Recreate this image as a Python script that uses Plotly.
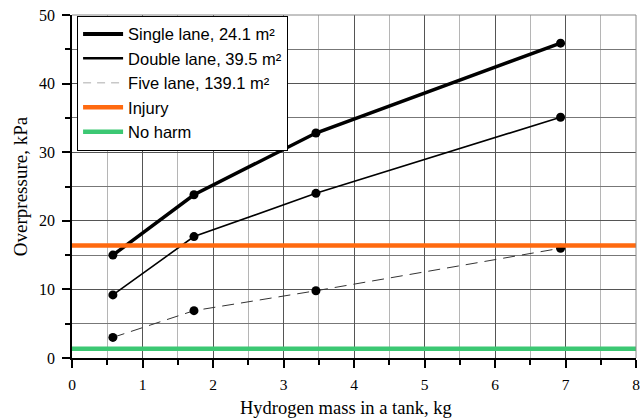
import plotly.graph_objects as go

# Hydrogen mass in tank (kg) and resulting overpressure (kPa) per tunnel cross-section
mass_kg = [0.58, 1.73, 3.46, 6.93]
single_lane = [15.0, 23.8, 32.8, 45.9]
double_lane = [9.2, 17.7, 24.0, 35.1]
five_lane = [3.0, 6.9, 9.8, 16.0]

# Harm thresholds (kPa)
injury_kpa = 16.4
no_harm_kpa = 1.35
x_range = [0, 8]

series_names = ["Single lane, 24.1 m²", "Double lane, 39.5 m²", "Five lane, 139.1 m²"]

fig = go.Figure()

line_styles = [
    dict(color="black", width=3.5),
    dict(color="black", width=1.6),
    dict(color="#333333", width=1, dash="12px,7px"),
]
legend_styles = [
    dict(color="black", width=4),
    dict(color="black", width=2.5),
    dict(color="#c8c8c8", width=1.5, dash="8px,6px"),
]
for name, ys, st, lst in zip(series_names, [single_lane, double_lane, five_lane],
                             line_styles, legend_styles):
    fig.add_trace(go.Scatter(x=mass_kg, y=ys, mode="lines", showlegend=False, line=st))
    fig.add_trace(go.Scatter(x=mass_kg, y=ys, mode="markers", showlegend=False,
                             marker=dict(color="black", size=9), hoverinfo="skip"))
    # legend entry
    fig.add_trace(go.Scatter(x=[None], y=[None], mode="lines", name=name, line=lst))

fig.add_trace(go.Scatter(x=x_range, y=[injury_kpa] * 2, mode="lines", name="Injury",
                         line=dict(color="#FF6A10", width=4.5)))
fig.add_trace(go.Scatter(x=x_range, y=[no_harm_kpa] * 2, mode="lines", name="No harm",
                         line=dict(color="#3CC873", width=4.5)))

serif = "Liberation Serif, Times New Roman, serif"
sans = "Liberation Sans, Arial, sans-serif"

fig.update_layout(
    width=641, height=419,
    margin=dict(l=72, r=5, t=15, b=61, autoexpand=False),
    paper_bgcolor="white", plot_bgcolor="white",
    font=dict(family=serif, size=15, color="black"),
    legend=dict(x=0.009, y=0.998, xanchor="left", yanchor="top",
                bgcolor="white", bordercolor="black", borderwidth=1,
                font=dict(family=sans, size=16.5, color="black"),
                tracegroupgap=0, itemwidth=40),
    showlegend=True,
)

fig.update_xaxes(
    range=x_range, tick0=0, dtick=1, automargin=False,
    showline=True, linecolor="black", linewidth=1.5,
    ticks="outside", ticklen=8, tickwidth=1.5, tickcolor="black",
    ticklabelstandoff=4,
    showgrid=True, gridcolor="#555555", gridwidth=1,
    minor=dict(dtick=0.5, ticks="outside", ticklen=5, tickwidth=1.5, tickcolor="black",
               showgrid=True, gridcolor="#b5b5b5", gridwidth=1),
    zeroline=False,
    tickfont=dict(size=15.5),
)
fig.update_yaxes(
    range=[0, 50], tick0=0, dtick=10, automargin=False,
    showline=True, linecolor="black", linewidth=1.5,
    ticks="outside", ticklen=8, tickwidth=1.5, tickcolor="black",
    ticklabelstandoff=4,
    showgrid=True, gridcolor="#555555", gridwidth=1,
    minor=dict(dtick=5, ticks="outside", ticklen=5, tickwidth=1.5, tickcolor="black",
               showgrid=True, gridcolor="#777777", gridwidth=1),
    zeroline=False,
    title=dict(text="Overpressure, kPa", standoff=6, font=dict(size=19)),
    tickfont=dict(size=16),
)

fig.add_annotation(text="Hydrogen mass in a tank, kg", xref="paper", yref="paper",
                   x=0.486, y=-0.1465, xanchor="center", yanchor="middle",
                   showarrow=False, font=dict(family=serif, size=18.5, color="black"))

# light frame on top and right edges
fig.add_shape(type="line", xref="paper", yref="paper", x0=0, x1=1, y0=1, y1=1,
              line=dict(color="#888888", width=1))
fig.add_shape(type="line", xref="paper", yref="paper", x0=1, x1=1, y0=0, y1=1,
              line=dict(color="#888888", width=1))

fig.write_html("out.html")
